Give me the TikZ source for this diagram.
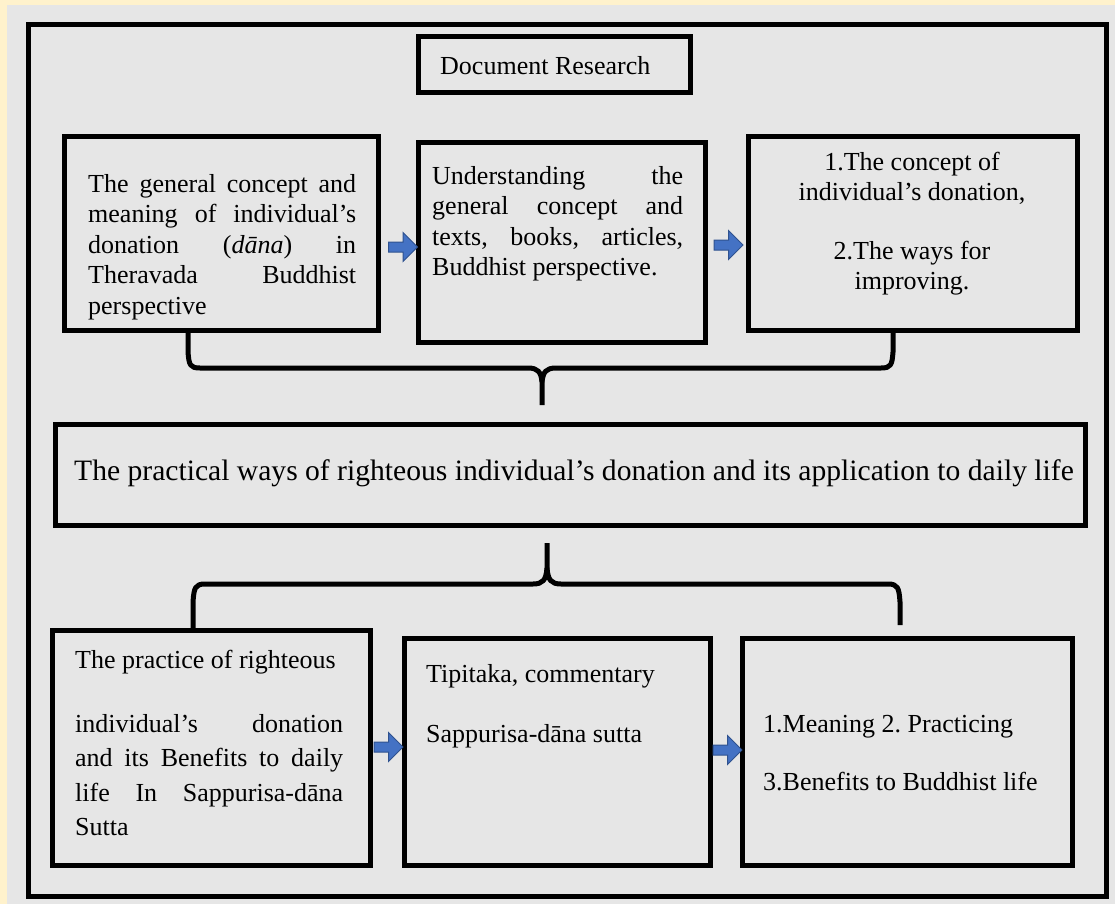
\documentclass[tikz,border=0pt]{standalone}
\usepackage{fontspec}
\setmainfont{Liberation Serif}
\usetikzlibrary{shapes.arrows}

\definecolor{pagecream}{HTML}{FFF2CC}
\definecolor{panelgray}{HTML}{E6E6E6}
\definecolor{arrowblue}{HTML}{4472C4}
\definecolor{arrowedge}{HTML}{2F528F}

\frenchspacing

\begin{document}
\begin{tikzpicture}[x=1pt, y=-1pt,
	box/.style = {draw, line width=5pt, rectangle, inner sep=0pt, outer sep=0pt},
	txt/.style = {inner sep=0pt, font=\fontsize{26}{30.5}\selectfont},
	flow/.style = {single arrow, draw=arrowedge, fill=arrowblue, line width=1pt,
		minimum height=29pt, single arrow head extend=9.5pt,
		inner xsep=0pt, inner ysep=4.5pt, outer sep=0pt},
	brace/.style = {draw=black, line width=5pt, line join=round}]
	\useasboundingbox[fill=pagecream] (0,0) rectangle (1115,904);
	\fill[panelgray] (7,5) rectangle (1115,904);

	\begin{scope}[every node/.style = {box}]
		\node[minimum width=1078pt, minimum height=871.5pt] (frame) at (567,460.25) {};
		\node[minimum width=272pt, minimum height=56pt] (doc) at (554,65) {};
		\node[minimum width=313.5pt, minimum height=193pt] (concept) at (221.25,233.5) {};
		\node[minimum width=287pt, minimum height=199pt] (understand) at (561.5,242.5) {};
		\node[minimum width=329pt, minimum height=193pt] (result) at (912.5,233.5) {};
		\node[minimum width=1030pt, minimum height=101pt] (practical) at (570,474.5) {};
		\node[minimum width=318pt, minimum height=235pt] (practice) at (211,747.5) {};
		\node[minimum width=306pt, minimum height=227pt] (tipitaka) at (557,751.5) {};
		\node[minimum width=330pt, minimum height=227pt] (benefit) at (907,751.5) {};
	\end{scope}

	\begin{scope}[every node/.style = {txt}]
		\node[anchor=base west] (docT) at (440,75) {Document Research};
		\node[anchor=north west, text width=268pt, align=justify] (conceptT) at (88,170.6)
			{\strut The general concept and\linebreak meaning of individual's\linebreak
			donation (\textit{dāna}) in\linebreak Theravada Buddhist\linebreak perspective};
		\node[anchor=north west, text width=251pt, align=justify] (understandT) at (432,162.6)
			{\strut Understanding the\linebreak general concept and\linebreak
			texts, books, articles,\linebreak Buddhist perspective.};
		\node[anchor=north, align=center] (resultT) at (912,148.6)
			{\strut 1.The concept of\\ individual's donation,\\[28pt] 2.The ways for\\ improving.};
		\node[anchor=base, font=\fontsize{29.6}{34}\selectfont] (practicalT) at (574,480)
			{The practical ways of righteous individual's donation and its application to daily life};
		\node[anchor=north west, text width=268pt, align=justify,
			font=\fontsize{26}{34.5}\selectfont] (practiceT) at (75,643.9)
			{\strut The practice of righteous\\[29.5pt] individual's donation\linebreak
			and its Benefits to daily\linebreak life In Sappurisa-dāna\linebreak Sutta};
		\node[anchor=north west, align=left] (tipitakaT) at (426,660.6)
			{\strut Tipitaka, commentary\\[29.5pt] Sappurisa-dāna sutta};
		\node[anchor=north west, align=left] (benefitT) at (763,710.6)
			{\strut 1.Meaning 2. Practicing\\[27.5pt] 3.Benefits to Buddhist life};
	\end{scope}

	\node[flow] (a1) at (400.5,247) {};
	\node[flow] (a2) at (726,245) {};
	\node[flow] (a3) at (386,747) {};
	\node[flow] (a4) at (725,750) {};

	\coordinate (tl) at (188,330);
	\coordinate (tr) at (893,330);
	\coordinate (tt) at (542,405);
	\coordinate (bl) at (193,630);
	\coordinate (br) at (900,625);
	\coordinate (bt) at (547,543);

	\path[brace] (tl) -- (188,352) .. controls (189,365) and (190,368) .. (200,368)
		-- (528,368) .. controls (538,368) and (541,372) .. (542,382) -- (tt);
	\path[brace] (tr) -- (893,352) .. controls (892,365) and (891,368) .. (881,368)
		-- (556,368) .. controls (546,368) and (543,372) .. (542,382);
	\path[brace] (bl) -- (193,602) .. controls (194,588) and (195,584) .. (205,584)
		-- (533,584) .. controls (543,584) and (546,580) .. (547,568) -- (bt);
	\path[brace] (br) -- (900,602) .. controls (899,588) and (898,584) .. (888,584)
		-- (561,584) .. controls (551,584) and (548,580) .. (547,568);
\end{tikzpicture}
\end{document}
